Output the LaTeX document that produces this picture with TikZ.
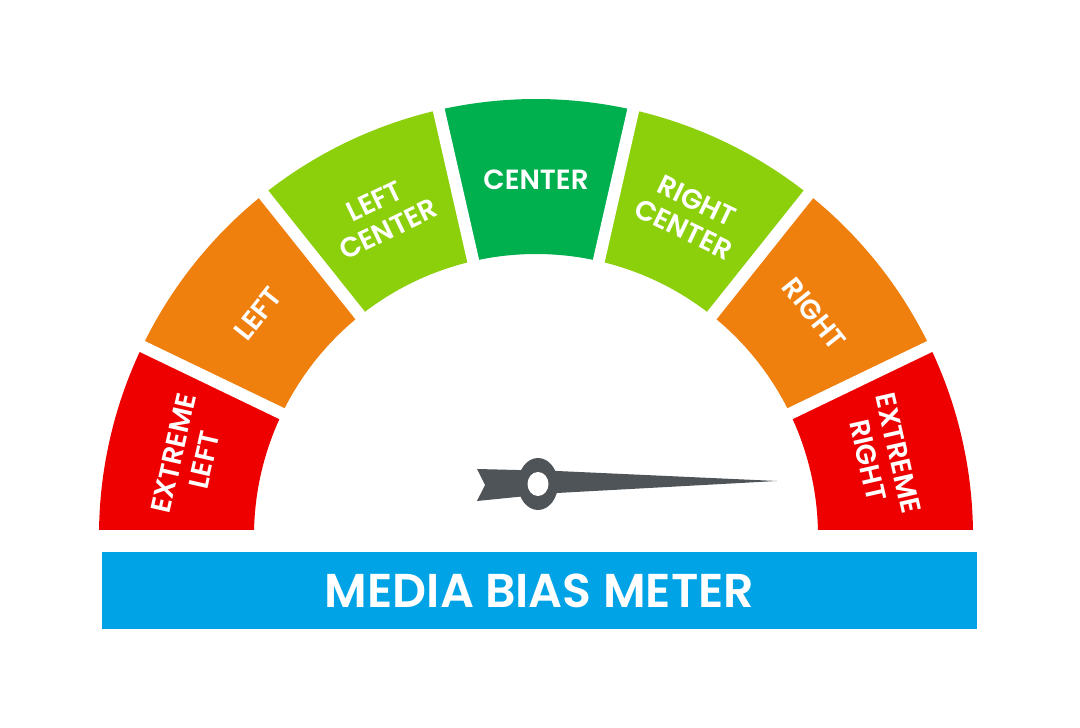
\documentclass[tikz,border=0pt]{standalone}
\usepackage{fontspec}
\setmainfont{Poppins}[BoldFont={Poppins SemiBold}]
\usepackage{xcolor}
\definecolor{farred}{HTML}{EE0000}
\definecolor{sideorange}{HTML}{F0800E}
\definecolor{leanlime}{HTML}{8CD00B}
\definecolor{midgreen}{HTML}{00B04F}
\definecolor{bannerblue}{HTML}{00A3E6}
\definecolor{needlegray}{HTML}{4F5459}
\usepackage{tikz}

\begin{document}
\begin{tikzpicture}[
  seglabel/.style={text=white, align=center,
    font=\bfseries\fontsize{7.9}{8.9}\selectfont}
]
  \useasboundingbox[fill=white] (-5.36,-1.92) rectangle (5.44,5.36);
  % the seven bands of the gauge
  \begin{scope}
    \clip (-4.6,0.06) rectangle (4.6,4.6);
    \fill[farred] (180:4.37) arc[start angle=180, end angle=154.29, radius=4.37]
      -- (154.29:2.82) arc[start angle=154.29, end angle=180, radius=2.82] -- cycle;
    \fill[sideorange] (154.29:4.37) arc[start angle=154.29, end angle=128.57, radius=4.37]
      -- (128.57:2.82) arc[start angle=128.57, end angle=154.29, radius=2.82] -- cycle;
    \fill[leanlime] (128.57:4.37) arc[start angle=128.57, end angle=102.86, radius=4.37]
      -- (102.86:2.82) arc[start angle=102.86, end angle=128.57, radius=2.82] -- cycle;
    \fill[midgreen] (102.86:4.37) arc[start angle=102.86, end angle=77.14, radius=4.37]
      -- (77.14:2.82) arc[start angle=77.14, end angle=102.86, radius=2.82] -- cycle;
    \fill[leanlime] (77.14:4.37) arc[start angle=77.14, end angle=51.43, radius=4.37]
      -- (51.43:2.82) arc[start angle=51.43, end angle=77.14, radius=2.82] -- cycle;
    \fill[sideorange] (51.43:4.37) arc[start angle=51.43, end angle=25.71, radius=4.37]
      -- (25.71:2.82) arc[start angle=25.71, end angle=51.43, radius=2.82] -- cycle;
    \fill[farred] (25.71:4.37) arc[start angle=25.71, end angle=0, radius=4.37]
      -- (0:2.82) arc[start angle=0, end angle=25.71, radius=2.82] -- cycle;
    % white gaps
    \draw[white, line width=1.2mm] (154.29:2.7) -- (154.29:4.5);
    \draw[white, line width=1.2mm] (128.57:2.7) -- (128.57:4.5);
    \draw[white, line width=1.2mm] (102.86:2.7) -- (102.86:4.5);
    \draw[white, line width=1.2mm] (77.14:2.7) -- (77.14:4.5);
    \draw[white, line width=1.2mm] (51.43:2.7) -- (51.43:4.5);
    \draw[white, line width=1.2mm] (25.71:2.7) -- (25.71:4.5);
  \end{scope}
  \node[seglabel, rotate=77.14] (xleft) at (167.14:3.56) {EXTREME\\LEFT};
  \node[seglabel, rotate=51.43] (left) at (141.43:3.56) {LEFT};
  \node[seglabel, rotate=25.71] (lcenter) at (115.71:3.56) {LEFT\\CENTER};
  \node[seglabel] (center) at (90:3.56) {CENTER};
  \node[seglabel, rotate=-25.71] (rcenter) at (64.29:3.56) {RIGHT\\CENTER};
  \node[seglabel, rotate=-51.43] (right) at (38.57:3.56) {RIGHT};
  \node[seglabel, rotate=-77.14] (xright) at (12.86:3.56) {EXTREME\\RIGHT};
  % needle
  \fill[needlegray] (-0.59,0.67) -- (0.21,0.65) -- (2.41,0.55) -- (0.21,0.43)
    -- (-0.59,0.35) -- (-0.51,0.51) -- cycle;
  \fill[needlegray] (0.02,0.52) ellipse[x radius=0.20, y radius=0.26];
  \fill[white] (0.02,0.52) ellipse[x radius=0.105, y radius=0.12];
  % title bar
  \fill[bannerblue] (-4.34,-0.16) rectangle (4.41,-0.93);
  \node[text=white, font=\bfseries\fontsize{13.5}{16}\selectfont] (title)
    at (0.035,-0.545) {MEDIA BIAS METER};
\end{tikzpicture}
\end{document}
